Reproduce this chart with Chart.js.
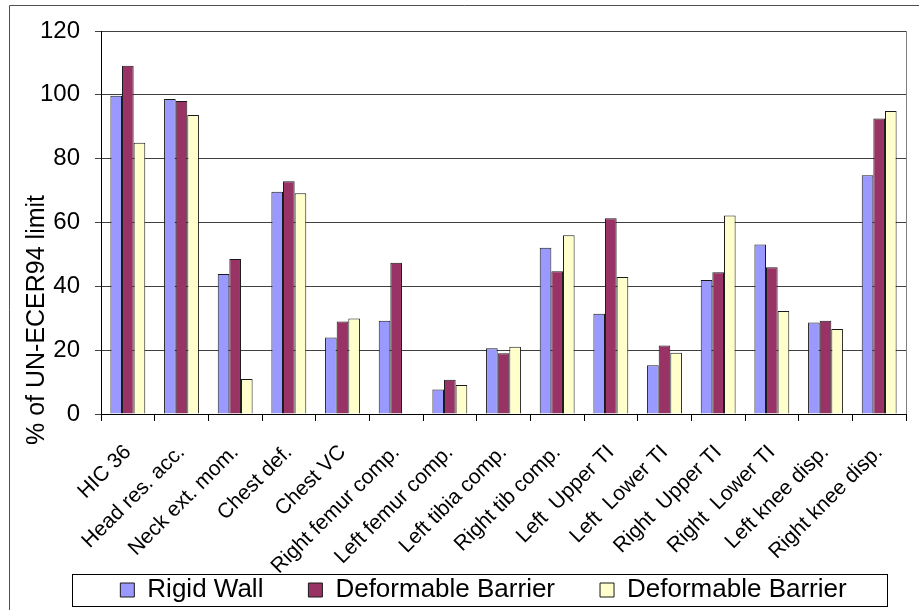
<!DOCTYPE html>
<html>
<head>
<meta charset="utf-8">
<script src="https://cdn.jsdelivr.net/npm/chart.js@4"></script>
<style>
  html, body { margin: 0; padding: 0; background: #fff; overflow: hidden; }
  #wrap { position: relative; width: 919px; height: 613px; }
</style>
</head>
<body>
<div id="wrap"><canvas id="c"></canvas></div>
<script>
// Dummy test measurements, in % of the UN-ECE R94 limit
const categories = [
  "HIC 36", "Head res. acc.", "Neck ext. mom.", "Chest def.", "Chest VC",
  "Right femur comp.", "Left femur comp.", "Left tibia comp.", "Right tib comp.",
  "Left  Upper TI", "Left  Lower TI", "Right  Upper TI", "Right  Lower TI",
  "Left knee disp.", "Right knee disp."
];
const seriesNames = ["Rigid Wall", "Deformable Barrier", "Deformable Barrier"];
const rigidWall   = [99.7, 98.7, 43.9, 69.6, 24.0, 29.2, 7.7, 20.6, 52.1, 31.4, 15.3, 42.0, 53.1, 28.7, 74.8];
const deformableA = [109.1, 98.1, 48.6, 72.9, 29.0, 47.4, 10.7, 19.0, 44.7, 61.3, 21.5, 44.4, 46.0, 29.2, 92.6];
const deformableB = [85.0, 93.7, 11.0, 69.2, 29.9, null, 9.1, 21.1, 56.0, 42.9, 19.2, 62.2, 32.3, 26.6, 94.9];
const yTicks = [0, 20, 40, 60, 80, 100, 120];
const yTitle = "% of UN-ECER94 limit";

const FONT = "'Liberation Sans', Arial, sans-serif";

// Let the tick labels overflow their (deliberately narrow) scale boxes
const unclipLabels = {
  id: 'unclipLabels',
  afterLayout(chart) {
    chart.scales.y.left = 0;
    chart.scales.x.bottom = chart.height;
  }
};

// frame, plot-area right edge, rotated y title and legend border
const decorations = {
  id: 'decorations',
  afterDraw(chart) {
    const ctx = chart.ctx;
    const a = chart.chartArea;
    ctx.save();
    // outer frame
    ctx.strokeStyle = '#505050';
    ctx.lineWidth = 1;
    ctx.beginPath();
    ctx.moveTo(9.5, 613);
    ctx.lineTo(9.5, 5.5);
    ctx.lineTo(919, 5.5);
    ctx.stroke();
    // right edge of plot area
    ctx.strokeStyle = '#808080';
    ctx.beginPath();
    ctx.moveTo(Math.round(a.right) + 0.5, a.top);
    ctx.lineTo(Math.round(a.right) + 0.5, a.bottom);
    ctx.stroke();
    // y axis title
    ctx.fillStyle = '#000';
    ctx.font = '25px ' + FONT;
    ctx.textAlign = 'center';
    ctx.textBaseline = 'middle';
    ctx.translate(37, 320);
    ctx.rotate(-Math.PI / 2);
    ctx.fillText(yTitle, 0, 0);
    ctx.restore();
    // legend border
    const hb = chart.legend.legendHitBoxes;
    if (hb && hb.length) {
      const first = hb[0], last = hb[hb.length - 1];
      const left = Math.round(first.left - 48) + 0.5;
      const right = Math.round(last.left + last.width + 40) + 0.5;
      const mid = first.top + first.height / 2;
      const top = Math.round(mid - 16) + 0.5;
      const bottom = Math.round(mid + 16) + 0.5;
      ctx.save();
      ctx.strokeStyle = '#000';
      ctx.lineWidth = 1;
      ctx.strokeRect(left, top, right - left, bottom - top);
      ctx.restore();
    }
  }
};

const barStyle = { borderColor: '#1a1a1a', borderWidth: 1, barPercentage: 1.0, categoryPercentage: 0.65 };

new Chart(document.getElementById('c'), {
  type: 'bar',
  data: {
    labels: categories,
    datasets: [
      Object.assign({ label: seriesNames[0], data: rigidWall,   backgroundColor: '#9999FF' }, barStyle),
      Object.assign({ label: seriesNames[1], data: deformableA, backgroundColor: '#993366' }, barStyle),
      Object.assign({ label: seriesNames[2], data: deformableB, backgroundColor: '#FFFFCC' }, barStyle)
    ]
  },
  options: {
    responsive: true,
    maintainAspectRatio: false,
    animation: false,
    layout: { padding: { left: 61, right: 13, top: 31, bottom: 0 } },
    plugins: {
      tooltip: { enabled: false },
      legend: {
        position: 'bottom',
        labels: {
          color: '#000',
          font: { family: FONT, size: 26 },
          boxWidth: 14,
          boxHeight: 14,
          padding: 45
        }
      }
    },
    scales: {
      x: {
        grid: {
          offset: true,
          drawOnChartArea: false,
          drawTicks: true,
          tickLength: 7,
          color: '#000'
        },
        border: { color: '#000', width: 1 },
        ticks: {
          color: '#000',
          font: { family: FONT, size: 21 },
          autoSkip: false,
          maxRotation: 45,
          minRotation: 45,
          padding: 19
        },
        afterFit(scale) {
          scale.height = 118;
          scale.paddingLeft = 0;
          scale.paddingRight = 0;
        }
      },
      y: {
        min: 0,
        max: 120,
        afterBuildTicks(scale) {
          scale.ticks = yTicks.map(v => ({ value: v }));
        },
        grid: {
          color: '#404040',
          tickLength: 6,
          drawTicks: true
        },
        border: { color: '#000', width: 1 },
        ticks: {
          color: '#000',
          font: { family: FONT, size: 24 },
          padding: 15
        },
        afterFit(scale) {
          scale.width = 40;
          scale.paddingTop = 0;
          scale.paddingBottom = 0;
        }
      }
    }
  },
  plugins: [unclipLabels, decorations]
});
</script>
</body>
</html>
